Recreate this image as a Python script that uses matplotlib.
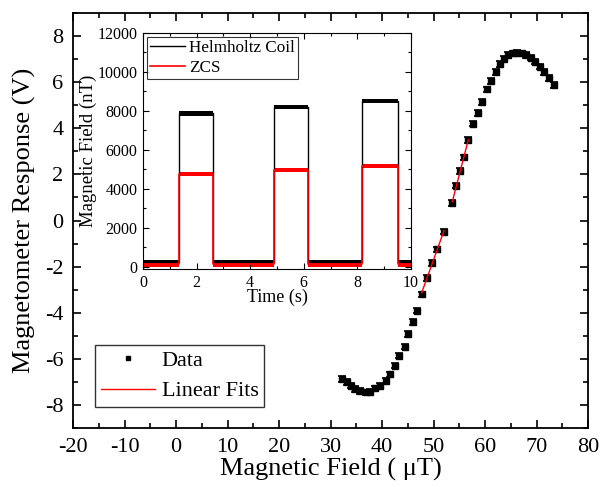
import matplotlib.pyplot as plt
import numpy as np

plt.rcParams['font.family'] = ['Liberation Serif', 'DejaVu Serif']
plt.rcParams['mathtext.fontset'] = 'stix'
plt.rcParams['axes.unicode_minus'] = False

# main data: magnetometer response vs applied field
field = [32.17, 33.15, 33.98, 34.76, 35.73, 36.83, 37.67, 38.64, 39.61, 40.78,
         41.55, 42.52, 43.3, 44.47, 44.99, 46.08, 46.74, 47.7, 48.68, 49.65,
         50.74, 52.04, 53.65, 54.37, 55.15, 55.92, 56.76, 57.73, 58.7, 59.42,
         60.45, 61.1, 62.08, 62.91, 63.75, 64.52, 65.38, 66.27, 67.13, 67.96,
         68.87, 69.77, 70.68, 71.51, 72.37, 73.4]
response = [-6.87, -7.01, -7.16, -7.31, -7.39, -7.45, -7.42, -7.28, -7.16, -6.96,
            -6.67, -6.29, -5.86, -5.47, -4.93, -4.41, -3.91, -3.2, -2.5, -1.85,
            -1.25, -0.48, 0.75, 1.51, 2.15, 2.74, 3.49, 4.2, 4.66, 5.15,
            5.69, 6.05, 6.45, 6.78, 7.01, 7.18, 7.25, 7.28, 7.25, 7.18,
            7.06, 6.89, 6.67, 6.43, 6.17, 5.88]
resp_err = 0.12
fit_ranges = [(47.5, 52.1), (53.5, 56.8)]

# inset data: square pulses (time in s, field in nT)
seg_start = [0.0, 1.34, 2.62, 4.89, 6.16, 8.16, 9.53]
seg_end = [1.34, 2.62, 4.89, 6.16, 8.16, 9.53, 10.0]
hc_level = [260, 7870, 260, 8200, 260, 8500, 260]
hc_spread = [70, 120, 70, 110, 70, 110, 70]
zcs_level = [120, 4770, 120, 4970, 120, 5170, 120]
zcs_spread = [130, 90, 130, 90, 130, 90, 130]

fig = plt.figure(figsize=(6.07, 4.87), dpi=100)
ax = fig.add_axes([0.1203, 0.1211, 0.8484, 0.8522])

x = np.array(field)
y = np.array(response)
ax.errorbar(x, y, yerr=resp_err, fmt='s', color='k', ms=3.8, capsize=3,
            elinewidth=1, capthick=1.2, zorder=3)
ax.plot([], [], 's', color='k', ms=3.5, label='Data')
for i, (lo, hi) in enumerate(fit_ranges):
    m = (x >= lo) & (x <= hi)
    p = np.polyfit(x[m], y[m], 1)
    xs = np.array([x[m].min(), x[m].max()])
    ax.plot(xs, np.polyval(p, xs), 'r-', lw=1, zorder=4,
            label='Linear Fits' if i == 0 else None)

ax.set_xlim(-20, 80)
ax.set_ylim(-9, 9)
ax.set_xticks(np.arange(-20, 81, 10))
ax.set_xticks(np.arange(-20, 81, 5), minor=True)
ax.set_yticks(np.arange(-8, 9, 2))
ax.set_yticks(np.arange(-9, 10, 1), minor=True)
ax.tick_params(which='both', direction='in', top=True, right=True, width=1.2)
ax.tick_params(which='major', length=6, labelsize=16, pad=7)
ax.tick_params(which='minor', length=3.5)
for s in ax.spines.values():
    s.set_linewidth(1.3)
ax.set_xlabel('Magnetic Field ( μT)', fontsize=19, labelpad=1)
ax.set_ylabel('Magnetometer Response (V)', fontsize=19, labelpad=6)
leg = ax.legend(loc='lower left', bbox_to_anchor=(0.1565, 0.1643),
                bbox_transform=fig.transFigure, fontsize=16, frameon=True,
                fancybox=False, edgecolor='k', borderaxespad=0,
                handlelength=2.45, handletextpad=0.3, borderpad=0.25,
                labelspacing=0.45)
leg.get_frame().set_linewidth(1.0)

# inset
ins = fig.add_axes([0.2356, 0.4476, 0.4415, 0.4846])
t_edges = []
hc_y = []
zcs_y = []
for s0, s1, h, z in zip(seg_start, seg_end, hc_level, zcs_level):
    t_edges += [s0, s1]
    hc_y += [h, h]
    zcs_y += [z, z]
ins.plot(t_edges, hc_y, color='k', lw=1, label='Helmholtz Coil')
for s0, s1, h, d in zip(seg_start, seg_end, hc_level, hc_spread):
    ins.fill_between([s0, s1], h - d, h + d, color='k', lw=0)
ins.plot(t_edges, zcs_y, color='r', lw=1.2, label='ZCS')
for s0, s1, z, d in zip(seg_start, seg_end, zcs_level, zcs_spread):
    ins.fill_between([s0, s1], z - d, z + d, color='r', lw=0)

ins.set_xlim(0, 10)
ins.set_ylim(-120, 12000)
ins.set_xticks(np.arange(0, 11, 2))
ins.set_xticks(np.arange(0, 11, 1), minor=True)
ins.set_yticks(np.arange(0, 12001, 2000))
ins.set_yticks(np.arange(0, 12001, 1000), minor=True)
ins.tick_params(which='both', direction='in', top=True, right=True, width=0.8)
ins.tick_params(which='major', length=4, labelsize=11.5, pad=4)
ins.tick_params(which='minor', length=2)
ins.set_xlabel('Time (s)', fontsize=13, labelpad=-1)
ins.set_ylabel('Magnetic Field (nT)', fontsize=13.5, labelpad=0)
ileg = ins.legend(loc='upper left', bbox_to_anchor=(0.015, 0.983),
                  fontsize=12.3, frameon=True, fancybox=False, edgecolor='k',
                  borderaxespad=0, handlelength=2.05, handletextpad=0.2,
                  borderpad=0.2, labelspacing=0.2)
ileg.get_frame().set_linewidth(0.8)

fig.savefig('out.png', dpi=100)
